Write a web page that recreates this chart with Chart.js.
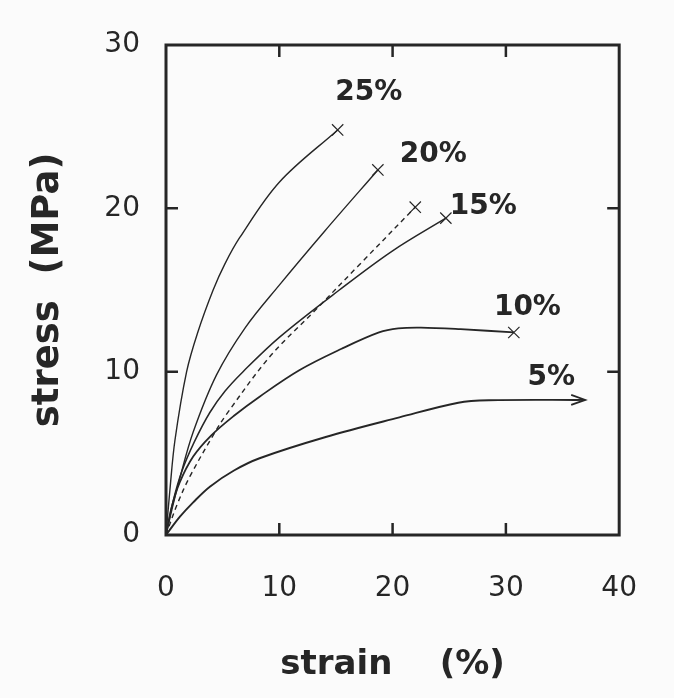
<!DOCTYPE html>
<html>
<head>
<meta charset="utf-8">
<script src="https://cdn.jsdelivr.net/npm/chart.js@4.4.1/dist/chart.umd.min.js"></script>
<style>
  html, body { margin: 0; padding: 0; background: #fbfbfb; }
  #wrap { width: 674px; height: 698px; }
</style>
</head>
<body>
<div id="wrap"><canvas id="canvas" width="674" height="698"></canvas></div>
<script>
// strain (%) / stress (MPa)
const strain25 = [0, 0.35, 0.79, 1.82, 2.8, 4.16, 5.2, 6.5, 10.0, 15.15];
const stress25 = [0, 2.8, 5.8, 10.0, 12.4, 15.0, 16.6, 18.2, 21.6, 24.8];

const strain20 = [0, 0.5, 1.23, 2.4, 4.46, 7.0, 10.0, 14.0, 18.7];
const stress20 = [0, 1.5, 3.5, 6.3, 9.8, 12.7, 15.3, 18.6, 22.35];

const strain15 = [0, 0.6, 1.4, 2.5, 3.87, 5.2, 6.8, 10.0, 15.3, 20.0, 24.7];
const stress15 = [0, 2.0, 3.9, 5.7, 7.5, 8.8, 10.0, 12.1, 15.0, 17.4, 19.4];

const strainDash = [0, 1.0, 2.1, 4.16, 5.3, 9.14, 12.95, 17.0, 22.0];
const stressDash = [0, 1.9, 3.57, 6.1, 7.35, 10.9, 13.6, 16.5, 20.07];

const strain10 = [0, 0.5, 1.2, 2.4, 4.0, 6.0, 8.26, 11.8, 15.5, 18.8, 20.5, 22.5, 26.0, 30.7];
const stress10 = [0, 1.7, 3.2, 4.8, 6.1, 7.3, 8.47, 10.1, 11.4, 12.4, 12.65, 12.7, 12.6, 12.4];

const strain5 = [0, 1.23, 2.4, 3.87, 6.0, 8.26, 14.1, 20.6, 25.8, 28.5, 37.0];
const stress5 = [0, 1.12, 2.0, 2.96, 3.95, 4.7, 6.0, 7.2, 8.1, 8.25, 8.27];

const xTicks = [0, 10, 20, 30, 40];
const yTicks = [0, 10, 20, 30];

const curveLabels = ["25%", "20%", "15%", "10%", "5%"];
const labelX = [17.9, 23.6, 28.0, 31.9, 34.0];
const labelY = [27.1, 23.3, 20.1, 13.9, 9.6];

const ink = '#262626';

function pts(xs, ys) {
    return xs.map((x, i) => ({ x: x, y: ys[i] }));
}

function series(xs, ys, cross, dashed, width) {
    const last = xs.length - 1;
    return {
        data: pts(xs, ys),
        borderColor: ink,
        borderWidth: width,
        borderDash: dashed ? [5, 4] : [],
        tension: 0.35,
        fill: false,
        pointStyle: 'crossRot',
        pointRadius: ctx => (cross && ctx.dataIndex === last) ? 8 : 0,
        pointHoverRadius: 0,
        pointBorderColor: ink,
        pointBorderWidth: 1.2
    };
}

const framePlugin = {
    id: 'frame',
    afterDraw(chart) {
        const ctx = chart.ctx;
        const a = chart.chartArea;
        const xs = chart.scales.x, ys = chart.scales.y;
        ctx.save();
        ctx.strokeStyle = ink;
        ctx.lineWidth = 3;
        ctx.strokeRect(a.left, a.top, a.right - a.left, a.bottom - a.top);

        // inward ticks on all four sides
        ctx.lineWidth = 2.5;
        const len = 12;
        xTicks.slice(1, -1).forEach(v => {
            const px = xs.getPixelForValue(v);
            ctx.beginPath();
            ctx.moveTo(px, a.bottom); ctx.lineTo(px, a.bottom - len);
            ctx.moveTo(px, a.top); ctx.lineTo(px, a.top + len);
            ctx.stroke();
        });
        yTicks.slice(1, -1).forEach(v => {
            const py = ys.getPixelForValue(v);
            ctx.beginPath();
            ctx.moveTo(a.left, py); ctx.lineTo(a.left + len, py);
            ctx.moveTo(a.right, py); ctx.lineTo(a.right - len, py);
            ctx.stroke();
        });

        // arrow head on the 5% curve
        const n = strain5.length - 1;
        const tx = xs.getPixelForValue(strain5[n]);
        const ty = ys.getPixelForValue(stress5[n]);
        ctx.lineWidth = 1.8;
        ctx.beginPath();
        ctx.moveTo(tx - 14, ty - 5);
        ctx.lineTo(tx, ty);
        ctx.lineTo(tx - 14, ty + 5);
        ctx.stroke();

        // curve labels
        ctx.fillStyle = ink;
        ctx.font = 'bold 28px "DejaVu Sans"';
        ctx.textAlign = 'center';
        ctx.textBaseline = 'middle';
        curveLabels.forEach((t, i) => {
            ctx.fillText(t, xs.getPixelForValue(labelX[i]), ys.getPixelForValue(labelY[i]));
        });
        ctx.restore();
    }
};

const config = {
    type: 'line',
    data: {
        datasets: [
            series(strain25, stress25, true, false, 1.4),
            series(strain20, stress20, true, false, 1.4),
            series(strain15, stress15, true, false, 1.5),
            series(strainDash, stressDash, true, true, 1.4),
            series(strain10, stress10, true, false, 1.8),
            series(strain5, stress5, false, false, 1.9)
        ]
    },
    options: {
        responsive: false,
        animation: false,
        layout: { padding: { left: 0, right: 53, top: 45, bottom: 0 } },
        plugins: { legend: { display: false }, tooltip: { enabled: false } },
        scales: {
            x: {
                type: 'linear',
                min: 0, max: 40,
                afterFit(scale) { scale.height = 163; },
                grid: { display: false, drawTicks: false },
                border: { display: false },
                ticks: {
                    stepSize: 10, padding: 37, color: ink,
                    font: { family: 'DejaVu Sans', size: 28 }
                },
                title: {
                    display: true, text: 'strain    (%)', color: ink,
                    font: { family: 'DejaVu Sans', size: 34, weight: 'bold' },
                    padding: { top: 0, bottom: 12 }
                }
            },
            y: {
                min: 0, max: 30,
                afterFit(scale) { scale.width = 166; },
                grid: { display: false, drawTicks: false },
                border: { display: false },
                ticks: {
                    stepSize: 10, padding: 26, color: ink,
                    font: { family: 'DejaVu Sans', size: 28 }
                },
                title: {
                    display: true, text: 'stress  (MPa)', color: ink,
                    font: { family: 'DejaVu Sans', size: 37, weight: 'bold' },
                    padding: { top: 26, bottom: 0 }
                }
            }
        }
    },
    plugins: [framePlugin]
};

new Chart(document.getElementById('canvas'), config);
</script>
</body>
</html>
